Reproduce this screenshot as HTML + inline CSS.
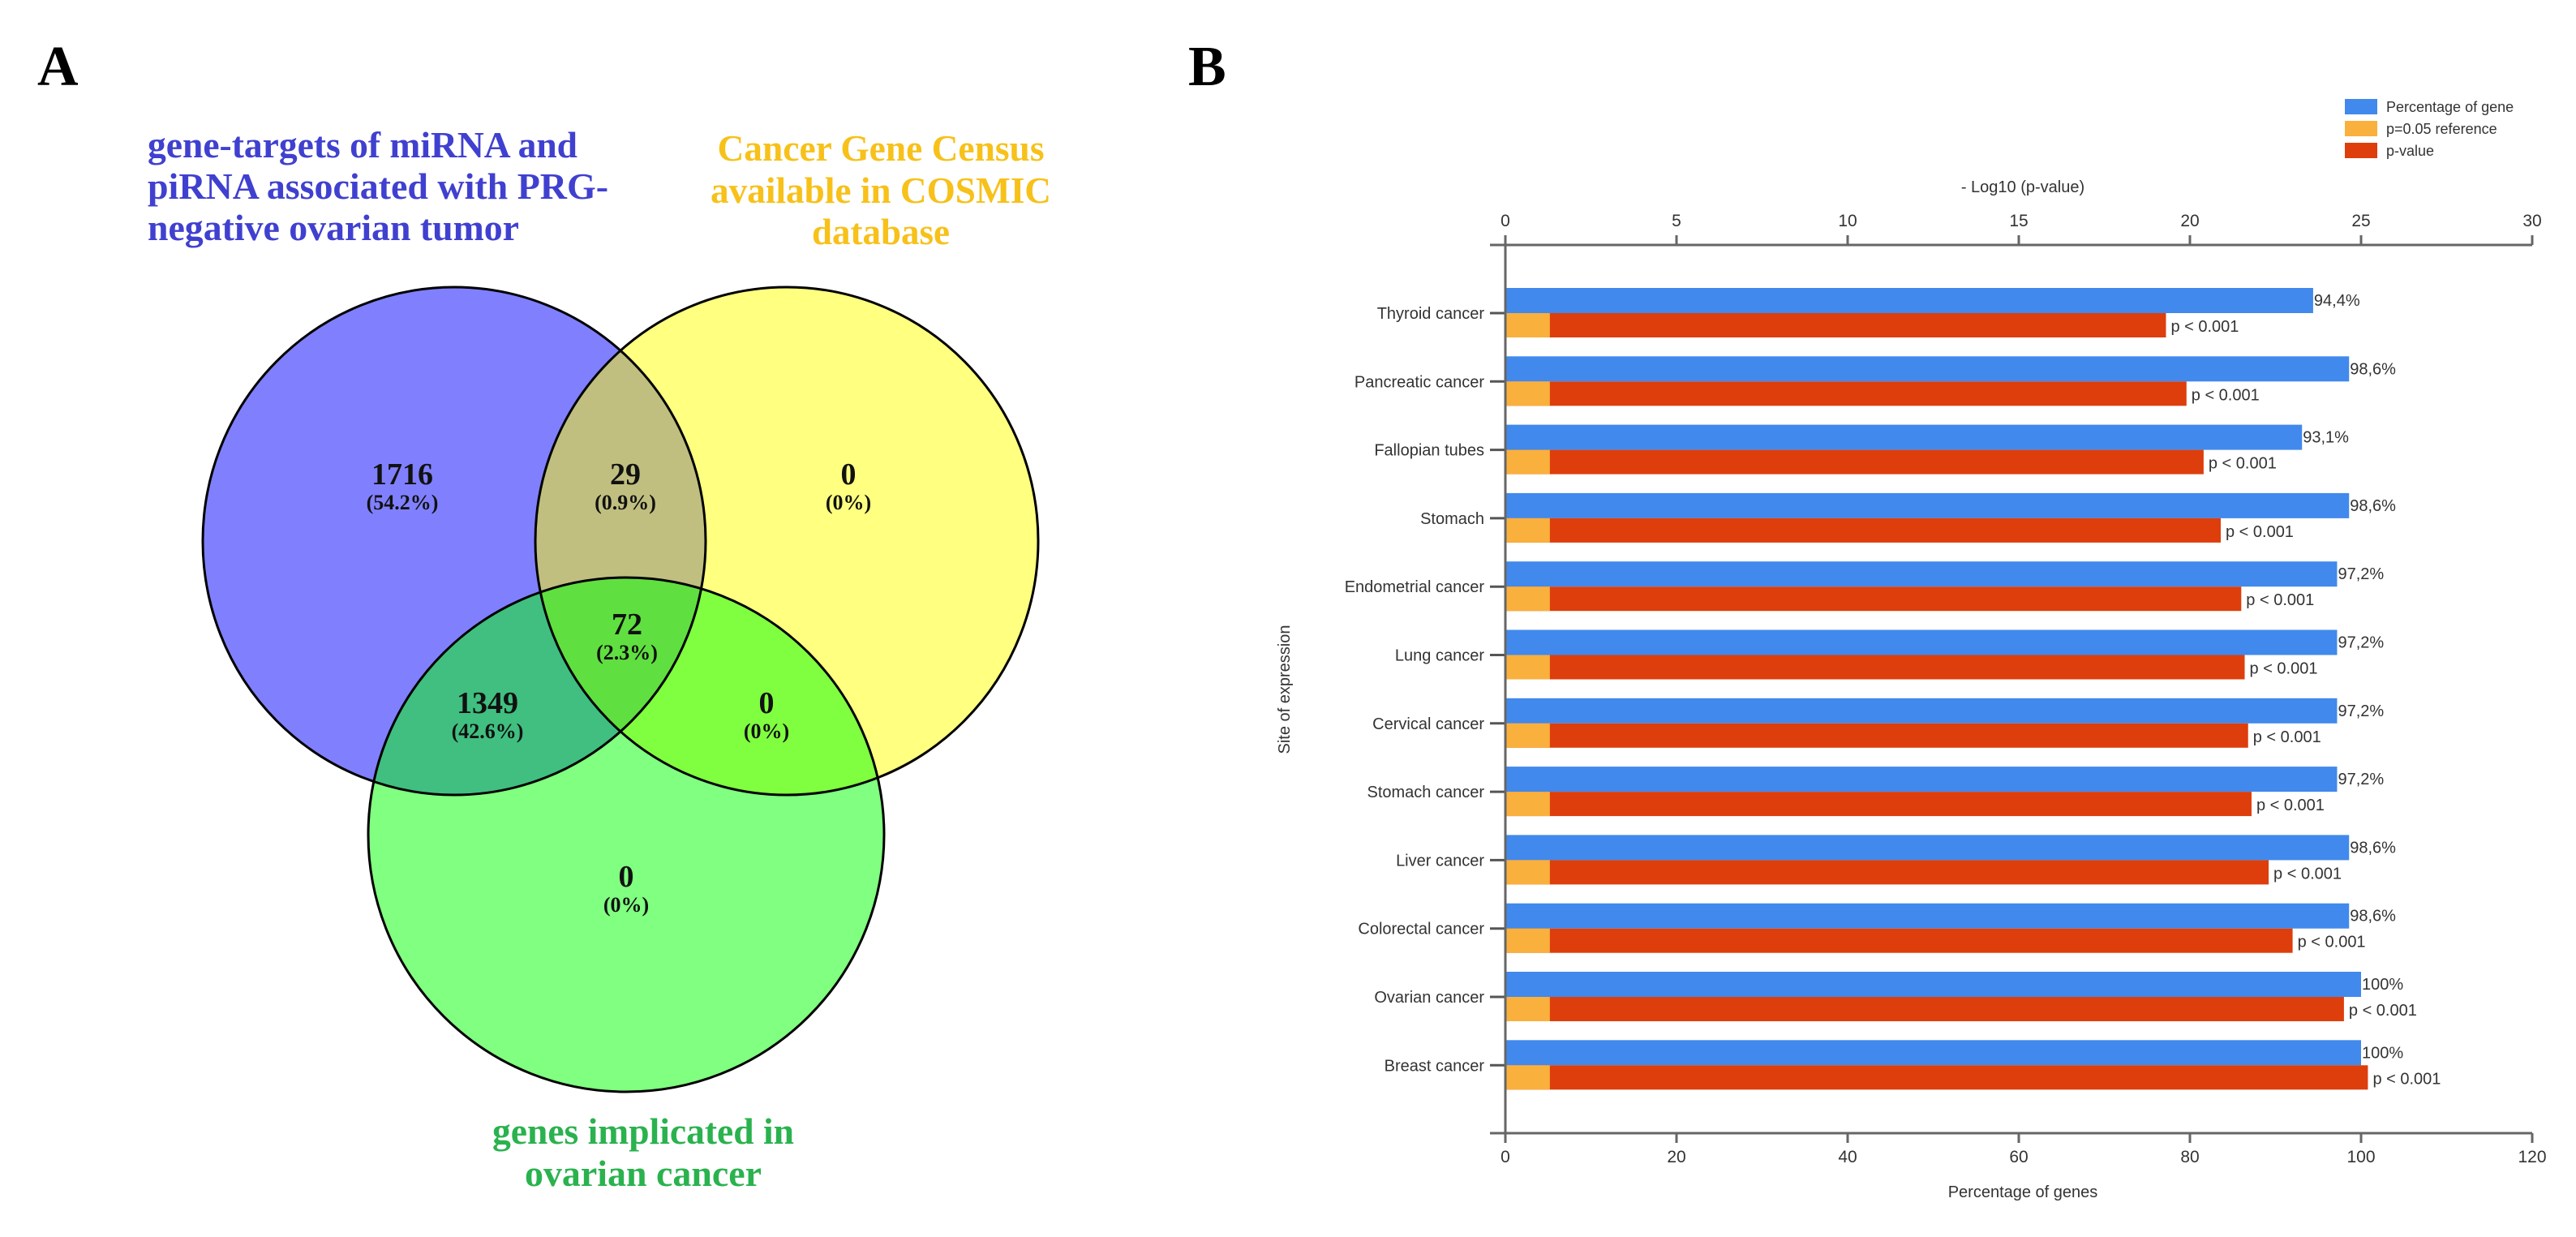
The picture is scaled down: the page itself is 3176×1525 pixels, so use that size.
<!DOCTYPE html>
<html><head><meta charset="utf-8"><style>
html,body{margin:0;padding:0;background:#fff;}
svg{display:block;}
</style></head><body>
<svg id="root" width="3176" height="1525" viewBox="0 0 3176 1525" xmlns="http://www.w3.org/2000/svg">
<defs>
<clipPath id="cB"><ellipse cx="560" cy="667" rx="310" ry="313"/></clipPath>
<clipPath id="cY"><ellipse cx="970" cy="667" rx="310" ry="313"/></clipPath>
<clipPath id="cG"><ellipse cx="772" cy="1029" rx="318" ry="317"/></clipPath>
</defs>
<g font-family="'Liberation Serif', serif" font-weight="bold">
<text x="46" y="105" font-size="70" fill="#000">A</text>
<g fill="#4040d0" font-size="46">
<text x="182" y="194" textLength="530" lengthAdjust="spacingAndGlyphs">gene-targets of miRNA and</text>
<text x="182" y="245" textLength="568" lengthAdjust="spacingAndGlyphs">piRNA associated with PRG-</text>
<text x="182" y="296" textLength="458" lengthAdjust="spacingAndGlyphs">negative ovarian tumor</text>
</g>
<g fill="#f7c11a" font-size="46" text-anchor="middle">
<text x="1086" y="198" textLength="403" lengthAdjust="spacingAndGlyphs">Cancer Gene Census</text>
<text x="1086" y="250" textLength="420" lengthAdjust="spacingAndGlyphs">available in COSMIC</text>
<text x="1086" y="301" textLength="170" lengthAdjust="spacingAndGlyphs">database</text>
</g>
<g fill="#2ab24e" font-size="46" text-anchor="middle">
<text x="793" y="1410" textLength="372" lengthAdjust="spacingAndGlyphs">genes implicated in</text>
<text x="793" y="1462" textLength="292" lengthAdjust="spacingAndGlyphs">ovarian cancer</text>
</g>
<ellipse cx="560" cy="667" rx="310" ry="313" fill="#8080ff"/>
<ellipse cx="970" cy="667" rx="310" ry="313" fill="#ffff80"/>
<ellipse cx="772" cy="1029" rx="318" ry="317" fill="#80ff80"/>
<g clip-path="url(#cB)"><ellipse cx="970" cy="667" rx="310" ry="313" fill="#c0bf80"/></g>
<g clip-path="url(#cB)"><ellipse cx="772" cy="1029" rx="318" ry="317" fill="#40bf80"/></g>
<g clip-path="url(#cY)"><ellipse cx="772" cy="1029" rx="318" ry="317" fill="#80ff40"/></g>
<g clip-path="url(#cB)"><g clip-path="url(#cY)"><ellipse cx="772" cy="1029" rx="318" ry="317" fill="#60df40"/></g></g>
<g fill="none" stroke="#000" stroke-width="3">
<ellipse cx="560" cy="667" rx="310" ry="313"/>
<ellipse cx="970" cy="667" rx="310" ry="313"/>
<ellipse cx="772" cy="1029" rx="318" ry="317"/>
</g>
<g fill="#111" text-anchor="middle">
<text x="496" y="597" font-size="38">1716</text><text x="496" y="628" font-size="26">(54.2%)</text>
<text x="771" y="597" font-size="38">29</text><text x="771" y="628" font-size="26">(0.9%)</text>
<text x="1046" y="597" font-size="38">0</text><text x="1046" y="628" font-size="26">(0%)</text>
<text x="773" y="782" font-size="38">72</text><text x="773" y="813" font-size="26">(2.3%)</text>
<text x="601" y="879" font-size="38">1349</text><text x="601" y="910" font-size="26">(42.6%)</text>
<text x="945" y="879" font-size="38">0</text><text x="945" y="910" font-size="26">(0%)</text>
<text x="772" y="1093" font-size="38">0</text><text x="772" y="1124" font-size="26">(0%)</text>
</g>
</g>
<text x="1465" y="105" font-family="'Liberation Serif', serif" font-weight="bold" font-size="70" fill="#000">B</text>
<g id="chartB" font-family="'Liberation Sans', sans-serif"></g>
</svg>
<script>
const categories = ["Thyroid cancer","Pancreatic cancer","Fallopian tubes","Stomach","Endometrial cancer","Lung cancer","Cervical cancer","Stomach cancer","Liver cancer","Colorectal cancer","Ovarian cancer","Breast cancer"];
const percentGenes = [94.4,98.6,93.1,98.6,97.2,97.2,97.2,97.2,98.6,98.6,100,100];
const percentLabels = ["94,4%","98,6%","93,1%","98,6%","97,2%","97,2%","97,2%","97,2%","98,6%","98,6%","100%","100%"];
const negLogP = [19.3,19.9,20.4,20.9,21.5,21.6,21.7,21.8,22.3,23.0,24.5,25.2];
const refNegLogP = 1.3;
const bottomTicks = [0,20,40,60,80,100,120];
const topTicks = [0,5,10,15,20,25,30];

const NS="http://www.w3.org/2000/svg";
const g=document.getElementById('chartB');
const X0=1856, X1=3122, YT=302, YB=1397;
const xPct = v => X0 + (v/120)*(X1-X0);
const xLog = v => X0 + (v/30)*(X1-X0);
const rowTop = i => 355 + i*84.3;
function el(tag, attrs, txt){const e=document.createElementNS(NS,tag);for(const k in attrs)e.setAttribute(k,attrs[k]);if(txt!==undefined)e.textContent=txt;g.appendChild(e);return e;}

categories.forEach((c,i)=>{
  const y=rowTop(i);
  const b=el('rect',{x:X0,y:y,width:xPct(percentGenes[i])-X0,height:31,fill:'#4189ec'});
  
  
  const r=el('rect',{x:X0,y:y+31,width:xLog(negLogP[i])-X0,height:30,fill:'#dd3e0c'});
  
  
  const o=el('rect',{x:X0,y:y+31,width:xLog(refNegLogP)-X0,height:30,fill:'#f9b03d'});
  
  
  const t1=el('text',{x:xPct(percentGenes[i])+1,y:y+22,'font-size':20,fill:'#333'},percentLabels[i]);
  
  
  const t2=el('text',{x:xLog(negLogP[i])+6,y:y+54,'font-size':20,fill:'#333'},'p < 0.001');
  
  
  const l=el('text',{x:1830,y:y+38,'font-size':20,fill:'#333','text-anchor':'end'},c);
  
  
  el('line',{x1:1837,x2:X0,y1:y+31,y2:y+31,stroke:'#555','stroke-width':3});
});
// axes
const ya=el('line',{x1:X0,x2:X0,y1:YT,y2:YB,stroke:'#666','stroke-width':3});


const ta=el('line',{x1:1837,x2:X1,y1:YT,y2:YT,stroke:'#666','stroke-width':3});


const ba=el('line',{x1:1837,x2:X1,y1:YB,y2:YB,stroke:'#666','stroke-width':3});


topTicks.forEach(v=>{
  el('line',{x1:xLog(v),x2:xLog(v),y1:YT-12,y2:YT,stroke:'#666','stroke-width':3});
  const t=el('text',{x:xLog(v),y:279,'font-size':21,fill:'#333','text-anchor':'middle'},String(v));
  
  
});
bottomTicks.forEach(v=>{
  el('line',{x1:xPct(v),x2:xPct(v),y1:YB,y2:YB+12,stroke:'#666','stroke-width':3});
  const t=el('text',{x:xPct(v),y:1433,'font-size':21,fill:'#333','text-anchor':'middle'},String(v));
  
  
});
const tt=el('text',{x:2494,y:237,'font-size':20,fill:'#333','text-anchor':'middle'},'- Log10 (p-value)');


const bt=el('text',{x:2494,y:1476,'font-size':20,fill:'#333','text-anchor':'middle'},'Percentage of genes');


const yt=el('text',{x:0,y:0,'font-size':20,fill:'#333','text-anchor':'middle',transform:'translate(1590,850) rotate(-90)'},'Site of expression');


// legend
const leg=[['#4189ec','Percentage of gene'],['#f9b03d','p=0.05 reference'],['#dd3e0c','p-value']];
leg.forEach((L,i)=>{
  const y=122+i*27;
  const r=el('rect',{x:2891,y:y,width:40,height:19,fill:L[0]});
  
  
  const t=el('text',{x:2942,y:y+16,'font-size':18,fill:'#333'},L[1]);
  
  
});
</script>
</body></html>
